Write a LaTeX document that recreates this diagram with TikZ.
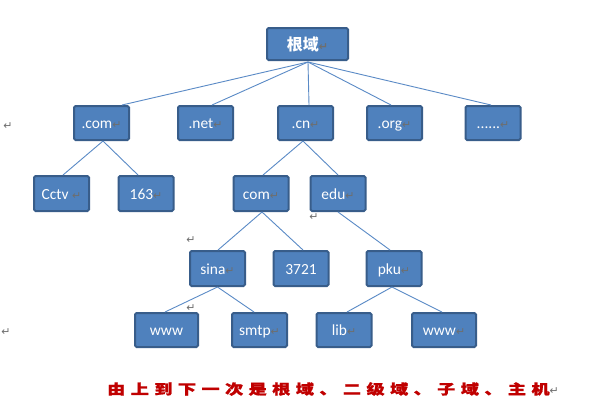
\documentclass[tikz,border=0pt]{standalone}
\usepackage{fontspec}
\usepackage{graphicx}
\setmainfont{Carlito}
\newfontfamily\cjkfont{Noto Sans CJK SC}
\newfontfamily\cjkspaced{Noto Sans CJK SC}[LetterSpace=30, BoldFeatures={FakeBold=1.2}]
\newfontfamily\symfont{DejaVu Sans}
\usetikzlibrary{calc}
\definecolor{boxfill}{HTML}{4F81BD}
\definecolor{boxline}{HTML}{385D8A}
\definecolor{linkc}{HTML}{5A8AC6}
\definecolor{retgray}{HTML}{6E6E6E}
\definecolor{capred}{HTML}{C00000}
\newcommand\retmark{{\symfont\fontsize{11}{11}\selectfont\color{retgray}↵}}
\tikzset{
  dbox/.style={draw=boxline, fill=boxfill, line width=2bp, rounded corners=1.5bp,
    minimum width=55bp, minimum height=34bp, inner sep=0pt, text=white,
    text height=11bp, text depth=0bp,
    font=\fontsize{15.5}{15.5}\selectfont},
  link/.style={draw=linkc, line width=0.9bp},
  retnode/.style={inner sep=0pt}
}
\begin{document}
\begin{tikzpicture}[x=1bp,y=-1bp]
\useasboundingbox (0,0) rectangle (596,402);
\fill[white] (0,0) rectangle (596,402);
% root
\node[dbox, minimum width=81bp, minimum height=32bp, text height=13bp] (root) at (307.5,44) {\cjkfont\bfseries\fontsize{16}{16}\selectfont 根域\retmark};
% row 1
\node[dbox] (dcom) at (101.5,123) {.com\retmark};
\node[dbox] (dnet) at (205.5,123) {.net\retmark};
\node[dbox] (dcn)  at (305.5,123) {.cn\retmark};
\node[dbox] (dorg) at (394.5,123) {.org\retmark};
\node[dbox] (dmore) at (493,123) {......\retmark};
% row 2
\node[dbox, minimum height=35bp] (cctv) at (61.5,193.5) {Cctv \retmark};
\node[dbox, minimum height=35bp] (n163) at (146,193.5) {163\retmark};
\node[dbox, minimum height=35bp] (ccom) at (261,193.5) {com\retmark};
\node[dbox, minimum height=35bp] (cedu) at (338,193.5) {edu\retmark};
% row 3
\node[dbox, minimum height=35bp] (sina) at (217.5,268.5) {sina\retmark};
\node[dbox, minimum height=35bp] (n3721) at (301,268.5) {3721};
\node[dbox, minimum height=35bp] (pku) at (394,268.5) {pku\retmark};
% row 4
\node[dbox, minimum width=63bp] (wwwa) at (166.5,330) {www};
\node[dbox] (smtp) at (259.5,330) {smtp\retmark};
\node[dbox] (lib) at (344,330) {lib\retmark};
\node[dbox, minimum width=64bp] (wwwb) at (444,330) {www\retmark};
% connectors
\draw[link] ($(root.south)+(0.5,1)$) -- ($(dcom.north)+(20.5,0)$);
\draw[link] ($(root.south)+(0.5,1)$) -- ($(dnet.north)+(6.5,0)$);
\draw[link] ($(root.south)+(0.5,1)$) -- ($(dcn.north)+(3.5,0)$);
\draw[link] ($(root.south)+(0.5,1)$) -- ($(dorg.north)+(-3.5,0)$);
\draw[link] ($(root.south)+(0.5,1)$) -- ($(dmore.north)+(-2,0)$);
\draw[link] ($(dcom.south)+(1.5,0)$) -- ($(cctv.north)+(1.5,0)$);
\draw[link] ($(dcom.south)+(1.5,0)$) -- ($(n163.north)+(-8,0)$);
\draw[link] ($(dcn.south)+(-2.5,0)$) -- ($(ccom.north)+(2,0)$);
\draw[link] ($(dcn.south)+(-2.5,0)$) -- ($(cedu.north)+(0,0)$);
\draw[link] ($(ccom.south)+(1,0)$) -- ($(sina.north)+(0.5,0)$);
\draw[link] ($(ccom.south)+(1,0)$) -- ($(n3721.north)+(2,0)$);
\draw[link] ($(cedu.south)+(0,0)$) -- ($(pku.north)+(-4,0)$);
\draw[link] ($(sina.south)+(0,0)$) -- ($(wwwa.north)+(-1.5,0)$);
\draw[link] ($(sina.south)+(0,0)$) -- ($(smtp.north)+(-5.5,0)$);
\draw[link] ($(pku.south)+(-2,0)$) -- ($(lib.north)+(3,0)$);
\draw[link] ($(pku.south)+(-2,0)$) -- ($(wwwb.north)+(-2,0)$);
% stray paragraph marks
\node[retnode] (r1) at (8,126) {\retmark};
\node[retnode] (r2) at (6,332) {\retmark};
\node[retnode] (r3) at (314,217) {\retmark};
\node[retnode] (r4) at (191,240) {\retmark};
\node[retnode] (r5) at (191,308) {\retmark};
% caption
\node[anchor=west, inner sep=0pt] (caption) at (107,389) {\scalebox{1.3}[1]{\cjkspaced\bfseries\fontsize{14}{14}\selectfont\color{capred}由上到下一次是根域、二级域、子域、主机}\retmark};
\end{tikzpicture}
\end{document}
